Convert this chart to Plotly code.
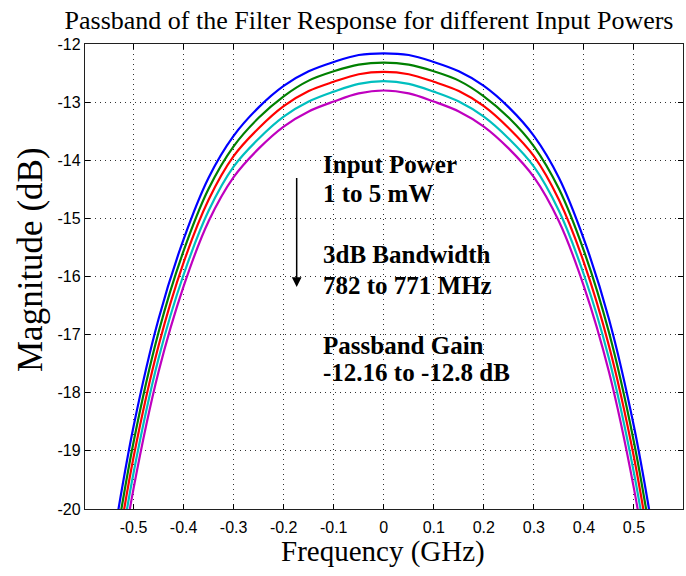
import plotly.graph_objects as go

# Frequency grid (GHz)
freq = [-0.54, -0.5, -0.45, -0.4, -0.35, -0.3, -0.25, -0.2, -0.15, -0.1, -0.05, 0.0,
        0.05, 0.1, 0.15, 0.2, 0.25, 0.3, 0.35, 0.4, 0.45, 0.5, 0.54]

# Magnitude (dB) per input power
mag_1mW = [-20.51, -18.58, -16.73, -15.36, -14.30, -13.58, -13.09, -12.72, -12.47, -12.31, -12.19, -12.16,
           -12.19, -12.31, -12.47, -12.72, -13.09, -13.58, -14.30, -15.36, -16.73, -18.58, -20.51]
mag_2mW = [-20.82, -18.85, -16.96, -15.56, -14.49, -13.76, -13.27, -12.90, -12.63, -12.47, -12.355, -12.32,
           -12.355, -12.47, -12.63, -12.90, -13.27, -13.76, -14.49, -15.56, -16.96, -18.85, -20.82]
mag_3mW = [-21.13, -19.11, -17.19, -15.76, -14.68, -13.93, -13.45, -13.07, -12.81, -12.65, -12.52, -12.48,
           -12.52, -12.65, -12.81, -13.07, -13.45, -13.93, -14.68, -15.76, -17.19, -19.11, -21.13]
mag_4mW = [-21.43, -19.38, -17.41, -15.97, -14.87, -14.11, -13.63, -13.25, -12.99, -12.82, -12.685, -12.64,
           -12.685, -12.82, -12.99, -13.25, -13.63, -14.11, -14.87, -15.97, -17.41, -19.38, -21.43]
mag_5mW = [-21.75, -19.65, -17.64, -16.17, -15.05, -14.29, -13.80, -13.42, -13.16, -12.99, -12.85, -12.80,
           -12.85, -12.99, -13.16, -13.42, -13.80, -14.29, -15.05, -16.17, -17.64, -19.65, -21.75]

series_names = ["1 mW", "2 mW", "3 mW", "4 mW", "5 mW"]
series_colors = ["#0000ff", "#008000", "#ff0000", "#00bfbf", "#bf00bf"]

x_ticks = [-0.5, -0.4, -0.3, -0.2, -0.1, 0.0, 0.1, 0.2, 0.3, 0.4, 0.5]
x_ticktext = ["-0.5", "-0.4", "-0.3", "-0.2", "-0.1", "0", "0.1", "0.2", "0.3", "0.4", "0.5"]
y_ticks = [-20, -19, -18, -17, -16, -15, -14, -13, -12]
y_ticktext = ["-20", "-19", "-18", "-17", "-16", "-15", "-14", "-13", "-12"]

note_lines = [
    ("Input Power", -14.08),
    ("1 to 5 mW", -14.57),
    ("3dB Bandwidth", -15.63),
    ("782 to 771 MHz", -16.15),
    ("Passband Gain", -17.18),
    ("-12.16 to -12.8 dB", -17.66),
]

serif = "Liberation Serif, Times New Roman, serif"
sans = "Liberation Sans, Arial, sans-serif"

fig = go.Figure()
for name, color, ys in zip(series_names, series_colors,
                           [mag_1mW, mag_2mW, mag_3mW, mag_4mW, mag_5mW]):
    fig.add_trace(go.Scatter(x=freq, y=ys, mode="lines", name=name,
                             line=dict(color=color, width=2.2, shape="spline", smoothing=1.0)))

axis_common = dict(showline=True, linecolor="#202020", linewidth=1.3, mirror="ticks",
                   ticks="inside", ticklen=5, tickcolor="black", tickwidth=1,
                   showgrid=True, gridcolor="#333333", gridwidth=1, griddash="1px,4px",
                   zeroline=False, tickfont=dict(family=sans, size=16, color="black"))

fig.update_xaxes(range=[-0.597, 0.598], tickvals=x_ticks, ticktext=x_ticktext,
                 ticklabelstandoff=4, **axis_common)
fig.update_yaxes(range=[-20, -12], tickvals=y_ticks, ticktext=y_ticktext,
                 ticklabelstandoff=0, **axis_common)

for text, yv in note_lines:
    fig.add_annotation(x=-0.126, y=yv, xref="x", yref="y", text="<b>" + text + "</b>",
                       showarrow=False, xanchor="left", yanchor="middle",
                       font=dict(family=serif, size=25, color="black"))
fig.add_annotation(x=-0.174, y=-16.18, ax=-0.174, ay=-14.28, xref="x", yref="y",
                   axref="x", ayref="y", text="", showarrow=True, arrowhead=2,
                   arrowsize=1.3, arrowwidth=1.5, arrowcolor="black")

# axis titles (positions in plot-area paper units)
plot_l, plot_r, plot_t, plot_b = 85, 683, 44, 509
pw, ph = plot_r - plot_l, plot_b - plot_t
fig.add_annotation(x=(383 - plot_l) / pw, y=(plot_b - 551) / ph, xref="paper", yref="paper",
                   text="Frequency (GHz)", showarrow=False, xanchor="center", yanchor="middle",
                   font=dict(family=serif, size=29, color="black"))
fig.add_annotation(x=(30 - plot_l) / pw, y=(plot_b - 260) / ph, xref="paper", yref="paper",
                   text="Magnitude (dB)", showarrow=False, textangle=-90,
                   xanchor="center", yanchor="middle",
                   font=dict(family=serif, size=35, color="black"))

fig.update_layout(
    width=686, height=576,
    margin=dict(l=plot_l, r=686 - plot_r, t=plot_t, b=576 - plot_b, autoexpand=False),
    paper_bgcolor="white", plot_bgcolor="white",
    showlegend=False,
    title=dict(text="Passband of the Filter Response for different Input Powers",
               x=369 / 686, xanchor="center", y=1 - 20 / 576, yanchor="middle",
               font=dict(family=serif, size=26, color="black")),
)

fig.write_html("out.html")
